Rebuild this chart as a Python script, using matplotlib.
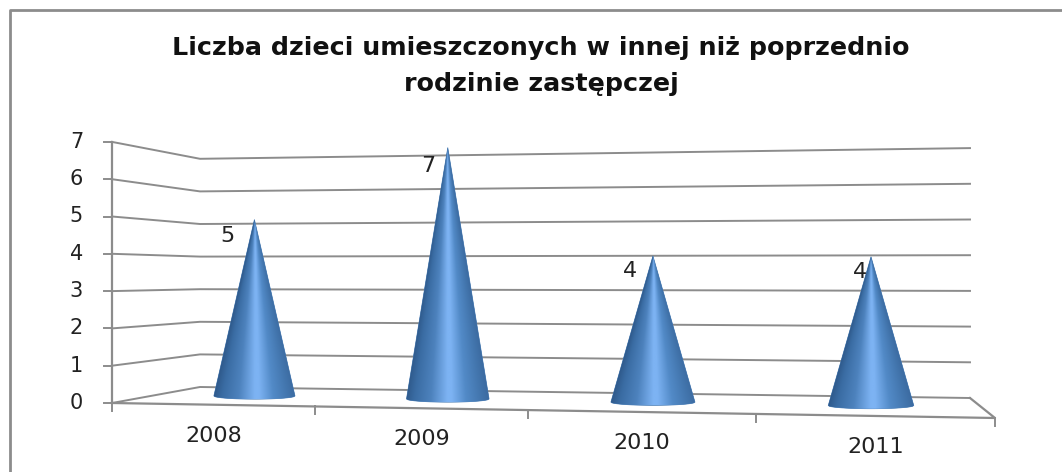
import numpy as np
import matplotlib
matplotlib.use("Agg")
import matplotlib.pyplot as plt
from matplotlib.patches import Polygon
from matplotlib.colors import to_rgb

# Dane z wykresu
lata = ["2008", "2009", "2010", "2011"]
dzieci = [5, 7, 4, 4]
poziomy = [0, 1, 2, 3, 4, 5, 6, 7]
tytul_1 = "Liczba dzieci umieszczonych w innej niż poprzednio"
tytul_2 = "rodzinie zastępczej"

# przesuniecia etykiet wzgledem czubka stozka (piksele)
etykieta_dx = [-27, -20, -23, -11]
etykieta_dy = [16, 18, 15, 15]

SZARY = "#8c8c8c"
TEKST = "#222222"
KOREKTA_U = 0.004

# narozniki podlogi 3D w pikselach: (u, glebokosc) -> (x, y)
src = np.array([[0, 0], [1, 0], [1, 1], [0, 1]], float)
dst = np.array([[112, 403], [995, 418], [970, 398], [200, 387]], float)
# piksele na jednostke osi Y w tych samych naroznikach
skala_rogi = np.array([37.3, 39.3, 35.7, 32.6])

A = []
b = []
for (u, d), (x, y) in zip(src, dst):
    A.append([u, d, 1, 0, 0, 0, -u * x, -d * x])
    A.append([0, 0, 0, u, d, 1, -u * y, -d * y])
    b += [x, y]
H = np.append(np.linalg.solve(np.array(A), np.array(b)), 1).reshape(3, 3)


def skala(u, d):
    return ((1 - u) * (1 - d) * skala_rogi[0] + u * (1 - d) * skala_rogi[1]
            + u * d * skala_rogi[2] + (1 - u) * d * skala_rogi[3])


def rzut(u, d, v=0):
    p = H @ np.array([u, d, 1.0])
    return p[0] / p[2], p[1] / p[2] - v * skala(u, d)


# cieniowanie stozka od lewej do prawej krawedzi
t_kolor = [-1.0, -0.8, -0.4, 0.0, 0.1, 0.45, 0.8, 1.0]
kolory = np.array([to_rgb(c) for c in ["#2f5a8c", "#3a6ca3", "#4d82bd", "#7db3f3",
                                       "#7db3f3", "#528ac7", "#4376ae", "#3c6ba1"]])


def stozek(ax, u, d, wartosc):
    cx, cy = rzut(u, d)
    s = skala(u, d)
    hw = 1.15 * s
    apex = (cx, cy - wartosc * s)
    ts = np.linspace(-1, 1, 81)
    obrys = [apex] + [(cx + hw * t, cy + 3.2 * np.sqrt(1 - t ** 2)) for t in ts]

    # gradient w ukladzie stozka: szerokosc rosnie od czubka do podstawy
    x0, x1 = cx - hw, cx + hw
    y0, y1 = apex[1], cy + 3.2
    xx, yy = np.meshgrid(np.linspace(x0, x1, 2 * int(x1 - x0)), np.linspace(y0, y1, 2 * int(y1 - y0)))
    szer = np.maximum(hw * (yy - y0) / (cy - y0), 0.01)
    t = np.clip((xx - cx) / szer, -1, 1)
    rgb = np.dstack([np.interp(t, t_kolor, kolory[:, k]) for k in range(3)])

    # obrys pod spodem wygladza krawedz przycietego obrazu
    ax.add_patch(Polygon(obrys, closed=True, facecolor="#4a7fb8", edgecolor="#4a7fb8", lw=0.5, zorder=3))
    im = ax.imshow(rgb, extent=(x0, x1, y1, y0), aspect="auto", interpolation="bilinear", zorder=3.1)
    im.set_clip_path(Polygon(obrys, closed=True, transform=ax.transData))
    return apex


fig = plt.figure(figsize=(10.62, 4.72), dpi=100)
ax = fig.add_axes([0, 0, 1, 1])
ax.axis("off")

# ramka (widoczna tylko z lewej i u gory)
ax.plot([10, 10, 1062], [472, 10, 10], color=SZARY, lw=2)

# siatka: sciana lewa i tylna
for v in poziomy:
    pts = [rzut(0, 0, v), rzut(0, 1, v), rzut(1, 1, v)]
    ax.plot(*zip(*pts), color=SZARY, lw=1.4, zorder=1)
    x0, y0 = rzut(0, 0, v)
    ax.plot([x0 - 8, x0], [y0, y0], color=SZARY, lw=1.4)
    ax.text(x0 - 29, y0, str(v), ha="right", va="center", fontsize=15, color=TEKST)

# os Y i podloga
ax.plot(*zip(rzut(0, 0, 0), rzut(0, 0, poziomy[-1])), color=SZARY, lw=1.6)
ax.plot(*zip(rzut(0, 0), rzut(1, 0), rzut(1, 1)), color=SZARY, lw=1.6, zorder=2)

# znaczniki i podpisy kategorii
n = len(lata)
brzegi = [rzut(i / n + (KOREKTA_U if 0 < i < n else 0), 0) for i in range(n + 1)]
for bx, by in brzegi:
    ax.plot([bx, bx], [by, by + 8], color=SZARY, lw=1.4)
for i, rok in enumerate(lata):
    mx = (brzegi[i][0] + brzegi[i + 1][0]) / 2
    my = (brzegi[i][1] + brzegi[i + 1][1]) / 2
    ax.text(mx, my + 31, rok, ha="center", va="center", fontsize=16, color=TEKST)

# stozki
for i, w in enumerate(dzieci):
    apex = stozek(ax, (i + 0.5) / n + KOREKTA_U, 0.5, w)
    ax.text(apex[0] + etykieta_dx[i], apex[1] + etykieta_dy[i], str(w), ha="center", va="center",
            fontsize=16, color=TEKST, zorder=4)

ax.text(541, 48, tytul_1, ha="center", va="center", fontsize=18.3, fontweight="bold", color="#111111")
ax.text(541, 84, tytul_2, ha="center", va="center", fontsize=18.3, fontweight="bold", color="#111111")

# imshow zmienia limity, wiec ustawiamy je na koncu
ax.set_xlim(0, 1062)
ax.set_ylim(472, 0)

fig.savefig("out.png", dpi=100)
